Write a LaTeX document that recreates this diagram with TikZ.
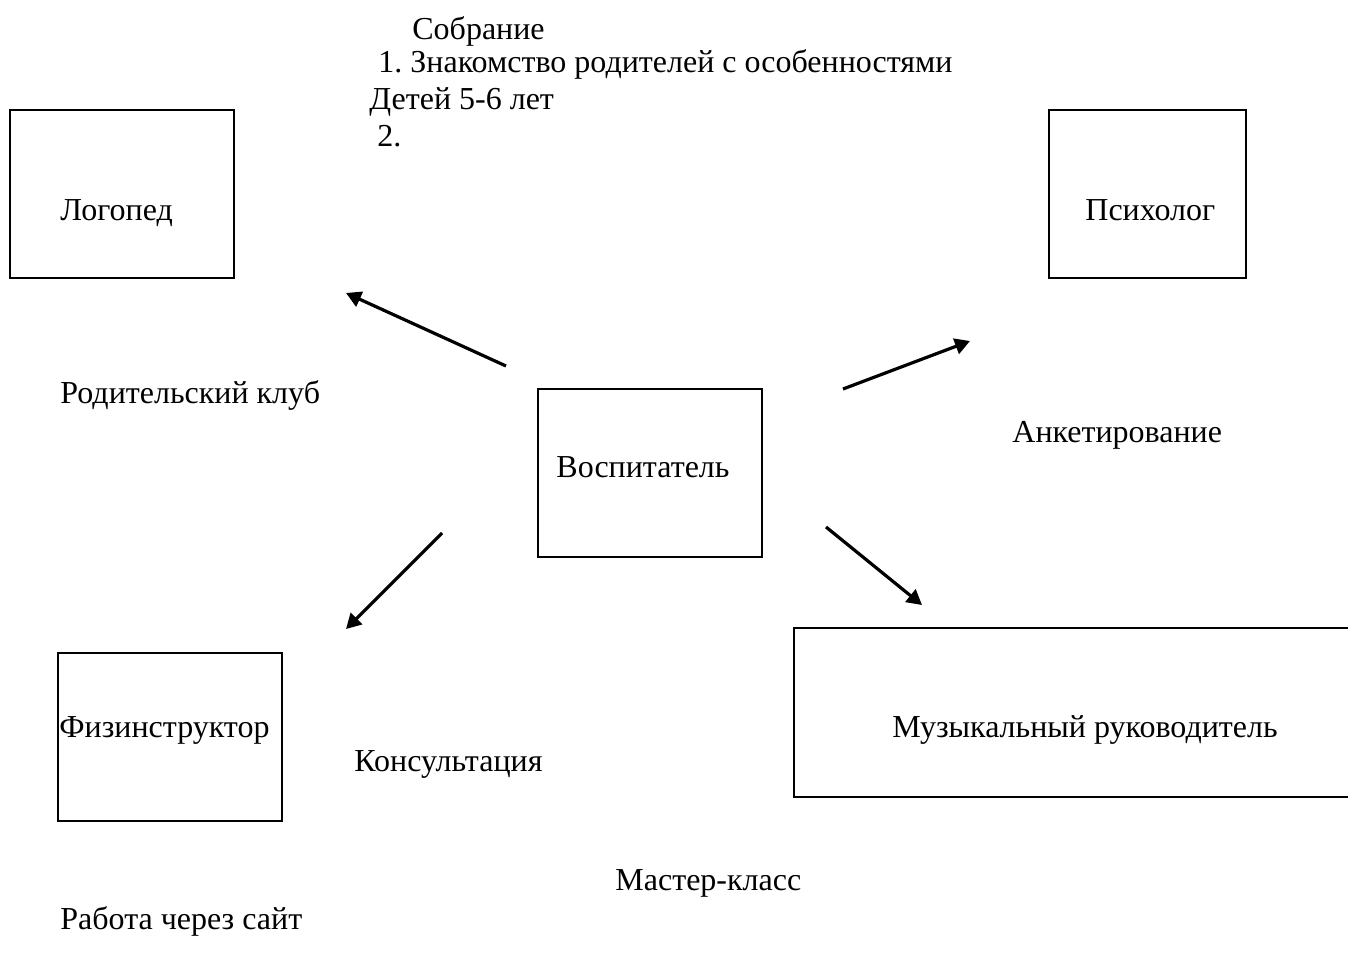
\documentclass[tikz,border=0pt]{standalone}
\usepackage{fontspec}
\setmainfont{Liberation Serif}
\usetikzlibrary{arrows.meta}

\begin{document}
\frenchspacing
\begin{tikzpicture}[x=0.5pt,y=0.5pt,yscale=-1,xscale=1,
  box/.style={draw,line width=0.75pt,inner sep=0pt,minimum width=112pt,minimum height=84pt},
  lbl/.style={font=\fontsize{16}{19}\selectfont,inner sep=0pt,anchor=base west},
  arr/.style={line width=1.6pt,-{Triangle[length=7.5pt,width=8pt]}}]
\useasboundingbox (0,0) rectangle (1348,963);
% boxes
\node [box] (logoped) at (122,194) {};
\node [box,minimum width=98.5pt] (psiholog) at (1147.5,194) {};
\node [box] (vospitatel) at (650,473) {};
\node [box] (fizinstruktor) at (170,737) {};
\node [box,minimum width=300pt,minimum height=84.5pt] (muzyka) at (1094,712.5) {};
% texts in the boxes
\draw (60,220) node [lbl] (logopedtxt) {Логопед};
\draw (1085,220) node [lbl] (psihologtxt) {Психолог};
\draw (556,477) node [lbl] (vospitateltxt) {Воспитатель};
\draw (59,737) node [lbl] (fizinstruktortxt) {Физинструктор};
\draw (892,737) node [lbl] (muzykatxt) {Музыкальный руководитель};
% free texts
\draw (412,40) node [lbl] (sobranie) {Собрание};
\draw (378,73) node [lbl] (punkt1) {1. Знакомство родителей с особенностями};
\draw (369,110) node [lbl] (deti) {Детей 5-6 лет};
\draw (377,147) node [lbl] (punkt2) {2.};
\draw (60,403) node [lbl] (klub) {Родительский клуб};
\draw (1012,442) node [lbl] (anketa) {Анкетирование};
\draw (354,771) node [lbl] (konsultacia) {Консультация};
\draw (615,890) node [lbl] (master) {Мастер-класс};
\draw (60,929) node [lbl] (sait) {Работа через сайт};
% arrows
\coordinate (a1s) at (506,366);
\coordinate (a1e) at (346,293);
\coordinate (a2s) at (843,389);
\coordinate (a2e) at (970,341);
\coordinate (a3s) at (442,533);
\coordinate (a3e) at (346,629);
\coordinate (a4s) at (826,527);
\coordinate (a4e) at (922,605);
\draw [arr] (a1s) -- (a1e);
\draw [arr] (a2s) -- (a2e);
\draw [arr] (a3s) -- (a3e);
\draw [arr] (a4s) -- (a4e);
\end{tikzpicture}
\end{document}
